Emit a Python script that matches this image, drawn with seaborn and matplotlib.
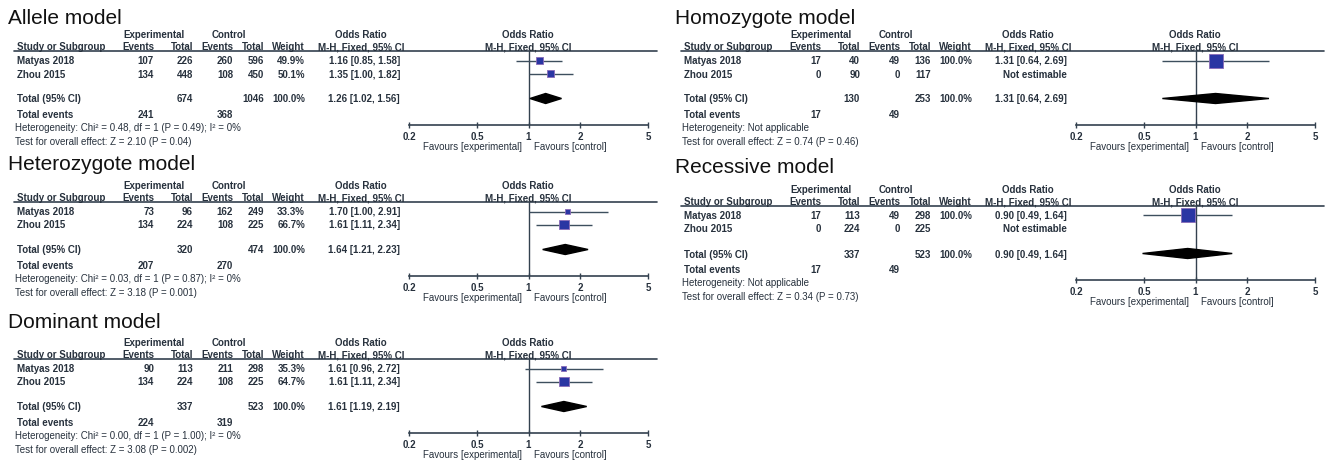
import matplotlib
matplotlib.use("Agg")
import matplotlib.pyplot as plt
from matplotlib.ticker import FixedLocator, FixedFormatter, NullLocator
import seaborn as sns
import pandas as pd

# Données des cinq modèles génétiques
models = ["Allele model", "Heterozygote model", "Dominant model",
          "Homozygote model", "Recessive model"]
studies = ["Matyas 2018", "Zhou 2015"]
exp_events = [[107, 134], [73, 134], [90, 134], [17, 0], [17, 0]]
exp_total = [[226, 448], [96, 224], [113, 224], [40, 90], [113, 224]]
ctrl_events = [[260, 108], [162, 108], [211, 108], [49, 0], [49, 0]]
ctrl_total = [[596, 450], [249, 225], [298, 225], [136, 117], [298, 225]]
weights = [[49.9, 50.1], [33.3, 66.7], [35.3, 64.7], [100.0, None], [100.0, None]]
or_est = [[1.16, 1.35], [1.70, 1.61], [1.61, 1.61], [1.31, None], [0.90, None]]
or_lo = [[0.85, 1.00], [1.00, 1.11], [0.96, 1.11], [0.64, None], [0.49, None]]
or_hi = [[1.58, 1.82], [2.91, 2.34], [2.72, 2.34], [2.69, None], [1.64, None]]
pooled_est = [1.26, 1.64, 1.61, 1.31, 0.90]
pooled_lo = [1.02, 1.21, 1.19, 0.64, 0.49]
pooled_hi = [1.56, 2.23, 2.19, 2.69, 1.64]
heterogeneity = ["Heterogeneity: Chi² = 0.48, df = 1 (P = 0.49); I² = 0%",
                 "Heterogeneity: Chi² = 0.03, df = 1 (P = 0.87); I² = 0%",
                 "Heterogeneity: Chi² = 0.00, df = 1 (P = 1.00); I² = 0%",
                 "Heterogeneity: Not applicable",
                 "Heterogeneity: Not applicable"]
overall = ["Test for overall effect: Z = 2.10 (P = 0.04)",
           "Test for overall effect: Z = 3.18 (P = 0.001)",
           "Test for overall effect: Z = 3.08 (P = 0.002)",
           "Test for overall effect: Z = 0.74 (P = 0.46)",
           "Test for overall effect: Z = 0.34 (P = 0.73)"]
ticks = [0.2, 0.5, 1, 2, 5]
tick_labels = ["0.2", "0.5", "1", "2", "5"]

sns.set_theme(style="white")
plt.rcParams['font.family'] = ['Liberation Sans', 'DejaVu Sans']

W, H = 1325, 464
fig = plt.figure(figsize=(W / 100, H / 100), dpi=100)
fig.patch.set_facecolor('white')
bg = fig.add_axes([0, 0, 1, 1])
bg.set_xlim(0, W)
bg.set_ylim(H, 0)
bg.axis('off')

TXT = '#27313d'
LINE = '#33414f'
FS = 7

# décalages des panneaux (pixels) : dx, dy, y du titre
offsets = [(0, 0, 18), (0, 151, 165), (0, 308, 323), (667, 0, 18), (667, 155, 168)]


def txt(x, y, s, ha='left', weight='bold', **kw):
    bg.text(x, y, s, ha=ha, va='center', fontsize=FS, color=TXT,
            fontweight=weight, **kw)


def draw_panel(i, dx, dy, title_y):
    # titre
    bg.text(8 + dx, title_y, models[i], ha='left', va='center',
            fontsize=15, color='#111111')

    # en-têtes
    txt(154 + dx, 35 + dy, "Experimental", ha='center')
    txt(229 + dx, 35 + dy, "Control", ha='center')
    txt(361 + dx, 35 + dy, "Odds Ratio", ha='center')
    txt(528 + dx, 35 + dy, "Odds Ratio", ha='center')
    hy = 47.5 + dy
    txt(17 + dx, hy, "Study or Subgroup")
    txt(154 + dx, hy, "Events", ha='right')
    txt(193 + dx, hy, "Total", ha='right')
    txt(233 + dx, hy, "Events", ha='right')
    txt(264 + dx, hy, "Total", ha='right')
    txt(305 + dx, hy, "Weight", ha='right')
    txt(361 + dx, hy, "M-H, Fixed, 95% CI", ha='center')
    txt(528 + dx, hy, "M-H, Fixed, 95% CI", ha='center')
    bg.plot([14 + dx, 657 + dx], [52 + dy, 52 + dy], color=LINE, lw=1.2)

    rows = [61.5 + dy, 74.5 + dy]
    for j, st in enumerate(studies):
        y = rows[j]
        txt(17 + dx, y, st)
        txt(154 + dx, y, str(exp_events[i][j]), ha='right')
        txt(193 + dx, y, str(exp_total[i][j]), ha='right')
        txt(233 + dx, y, str(ctrl_events[i][j]), ha='right')
        txt(264 + dx, y, str(ctrl_total[i][j]), ha='right')
        if weights[i][j] is not None:
            txt(305 + dx, y, f"{weights[i][j]:.1f}%", ha='right')
            txt(400 + dx, y, f"{or_est[i][j]:.2f} [{or_lo[i][j]:.2f}, {or_hi[i][j]:.2f}]", ha='right')
        else:
            txt(400 + dx, y, "Not estimable", ha='right')

    ty = 99.5 + dy
    txt(17 + dx, ty, "Total (95% CI)")
    txt(193 + dx, ty, str(sum(exp_total[i])), ha='right')
    txt(264 + dx, ty, str(sum(ctrl_total[i])), ha='right')
    txt(305 + dx, ty, "100.0%", ha='right')
    txt(400 + dx, ty, f"{pooled_est[i]:.2f} [{pooled_lo[i]:.2f}, {pooled_hi[i]:.2f}]", ha='right')
    txt(17 + dx, 115 + dy, "Total events")
    txt(154 + dx, 115 + dy, str(sum(exp_events[i])), ha='right')
    txt(233 + dx, 115 + dy, str(sum(ctrl_events[i])), ha='right')
    txt(15 + dx, 128.5 + dy, heterogeneity[i], weight='normal')
    txt(15 + dx, 142 + dy, overall[i], weight='normal')
    txt(522 + dx, 147.5 + dy, "Favours [experimental]", ha='right', weight='normal')
    txt(534 + dx, 147.5 + dy, "Favours [control]", weight='normal')

    # forest plot
    top, bot = 52 + dy, 126 + dy
    ax = fig.add_axes([(409 + dx) / W, 1 - bot / H, 239 / W, (bot - top) / H])
    ax.set_xscale('log')
    ax.set_xlim(0.2, 5)
    ax.set_ylim(bot, top)
    ax.patch.set_alpha(0)
    for s in ['top', 'left', 'right']:
        ax.spines[s].set_visible(False)
    ax.spines['bottom'].set_color(LINE)
    ax.spines['bottom'].set_linewidth(1.2)
    ax.xaxis.set_major_locator(FixedLocator(ticks))
    ax.xaxis.set_major_formatter(FixedFormatter(tick_labels))
    ax.xaxis.set_minor_locator(NullLocator())
    ax.set_yticks([])
    ax.tick_params(axis='x', direction='inout', length=5, width=1, color=LINE,
                   labelsize=FS, labelcolor=TXT, pad=1.5, bottom=True)
    for lab in ax.get_xticklabels():
        lab.set_fontweight('bold')
    ax.axvline(1, color=LINE, lw=1)

    df = pd.DataFrame({'or': or_est[i], 'lo': or_lo[i], 'hi': or_hi[i],
                       'w': weights[i], 'row': rows}).dropna()
    ax.hlines(df['row'], df['lo'], df['hi'], color='#3d4f5e', lw=1)
    side = (df['w'] / 100 * 14.5).clip(lower=4.5)
    sns.scatterplot(data=df, x='or', y='row', marker='s', s=(side * 0.72) ** 2,
                    color='#2a36a3', edgecolor='#8a6cb8', linewidth=0.6,
                    legend=False, ax=ax, clip_on=False, zorder=3)
    ax.fill([pooled_lo[i], pooled_est[i], pooled_hi[i], pooled_est[i]],
            [ty, ty - 5, ty, ty + 5], color='black', zorder=3)
    ax.set_xlabel('')
    ax.set_ylabel('')


for i, (dx, dy, title_y) in enumerate(offsets):
    draw_panel(i, dx, dy, title_y)

fig.savefig("out.png", dpi=100, facecolor='white')
